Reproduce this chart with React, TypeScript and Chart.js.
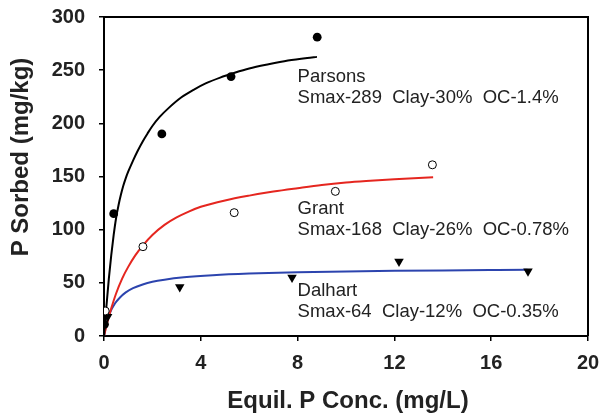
import React, { useEffect, useRef } from "react";
import { Chart, registerables } from "chart.js";

Chart.register(...registerables);

// ---- Data ----
const xTicks = [0, 4, 8, 12, 16, 20];
const yTicks = [0, 50, 100, 150, 200, 250, 300];

const parsonsX = [0.02, 0.4, 2.39, 5.25, 8.81];
const parsonsY = [11, 115, 190, 244, 281];
const grantX = [0.05, 1.61, 5.38, 9.56, 13.57];
const grantY = [23.5, 84, 116, 136, 161];
const dalhartX = [0.15, 3.13, 7.77, 12.19, 17.52];
const dalhartY = [18, 46, 55, 70, 61];

// fitted curves
const parsonsFitX = [0, 0.1, 0.2, 0.3, 0.4, 0.5, 0.6, 0.7, 0.8, 0.9, 1.0, 1.2, 1.4, 1.6, 1.8, 2.0, 2.3, 2.7, 3.2, 3.7, 4.2, 4.8, 5.4, 6.0, 6.8, 7.6, 8.4, 8.8];
const parsonsFitY = [0, 28, 54, 76, 95, 111, 123, 133, 141.5, 148.5, 154.5, 165, 174.5, 183, 190.5, 197.5, 206, 215, 224.5, 231.5, 237.5, 243, 247.5, 251.5, 255.5, 259, 261.5, 262.5];
const grantFitX = [0, 0.15, 0.3, 0.5, 0.75, 1.0, 1.3, 1.6, 2.0, 2.5, 3.0, 3.5, 4.0, 5.0, 6.0, 7.0, 8.0, 9.0, 10, 11, 12, 13, 13.6];
const grantFitY = [0, 14, 26, 40, 54, 65, 76, 85, 95, 104.5, 111.5, 117, 121.5, 127.5, 132, 135.8, 139, 142, 144.3, 146, 147.5, 148.7, 149.3];
const dalhartFitX = [0, 0.1, 0.25, 0.45, 0.65, 0.9, 1.2, 1.6, 2.0, 2.5, 3.3, 4.5, 6, 8, 10, 12, 14, 16, 17.5];
const dalhartFitY = [0, 11, 22, 30.5, 36, 41, 45, 48.5, 51, 53, 55.2, 57.2, 58.7, 59.9, 60.7, 61.3, 61.7, 62, 62.2];

const soilNames = ["Parsons", "Grant", "Dalhart"];
const soilDetails = [
  "Smax-289  Clay-30%  OC-1.4%",
  "Smax-168  Clay-26%  OC-0.78%",
  "Smax-64  Clay-12%  OC-0.35%",
];
const labelX = [8, 8, 8];
const labelY = [243.3, 119.6, 42.6];

const xTitle = "Equil. P Conc. (mg/L)";
const yTitle = "P Sorbed (mg/kg)";

const zip = (xs: number[], ys: number[]) => xs.map((x, i) => ({ x, y: ys[i] }));

const FONT = '"Liberation Sans", Arial, sans-serif';

export default function App() {
  const ref = useRef<HTMLCanvasElement | null>(null);

  useEffect(() => {
    if (!ref.current) return;

    const decor = {
      id: "decor",
      afterDraw(chart: any) {
        const { ctx, chartArea, scales } = chart;
        ctx.save();
        // frame top/right
        ctx.strokeStyle = "#000";
        ctx.lineWidth = 2;
        ctx.beginPath();
        ctx.moveTo(chartArea.left, chartArea.top);
        ctx.lineTo(chartArea.right, chartArea.top);
        ctx.lineTo(chartArea.right, chartArea.bottom);
        ctx.stroke();

        // annotations
        ctx.fillStyle = "#222";
        ctx.font = `18.5px ${FONT}`;
        ctx.textAlign = "left";
        ctx.textBaseline = "middle";
        soilNames.forEach((name, i) => {
          const px = scales.x.getPixelForValue(labelX[i]);
          const py = scales.y.getPixelForValue(labelY[i]);
          ctx.fillText(name, px, py);
          ctx.fillText(soilDetails[i], px, py + 21);
        });

        // axis titles
        ctx.fillStyle = "#222";
        ctx.font = `bold 24px ${FONT}`;
        ctx.textAlign = "center";
        ctx.textBaseline = "middle";
        ctx.fillText(xTitle, (chartArea.left + chartArea.right) / 2 + 2, 401);
        ctx.translate(21.5, 157);
        ctx.rotate(-Math.PI / 2);
        ctx.fillText(yTitle, 0, 0);
        ctx.restore();
      },
    };

    const chart = new Chart(ref.current, {
      type: "line",
      data: {
        datasets: [
          {
            label: "Parsons",
            data: zip(parsonsX, parsonsY),
            showLine: false,
            pointStyle: "circle",
            pointRadius: 4.4,
            backgroundColor: "#000",
            borderColor: "#000",
            borderWidth: 0,
            order: 0,
          },
          {
            label: "Grant",
            data: zip(grantX, grantY),
            showLine: false,
            pointStyle: "circle",
            pointRadius: 4,
            backgroundColor: "#fff",
            borderColor: "#000",
            pointBorderWidth: 1,
            order: 0,
          },
          {
            label: "Dalhart",
            data: zip(dalhartX, dalhartY),
            showLine: false,
            pointStyle: "triangle",
            pointRotation: 180,
            pointRadius: 5.5,
            backgroundColor: "#000",
            borderColor: "#000",
            pointBorderWidth: 0,
            order: 0,
          },
          {
            label: "Parsons fit",
            data: zip(parsonsFitX, parsonsFitY),
            borderColor: "#000",
            borderWidth: 2,
            pointRadius: 0,
            cubicInterpolationMode: "monotone",
            order: 1,
          },
          {
            label: "Grant fit",
            data: zip(grantFitX, grantFitY),
            borderColor: "#e5261f",
            borderWidth: 2,
            pointRadius: 0,
            cubicInterpolationMode: "monotone",
            order: 1,
          },
          {
            label: "Dalhart fit",
            data: zip(dalhartFitX, dalhartFitY),
            borderColor: "#2c44ae",
            borderWidth: 2,
            pointRadius: 0,
            cubicInterpolationMode: "monotone",
            order: 1,
          },
        ],
      },
      options: {
        responsive: false,
        animation: false,
        devicePixelRatio: 1,
        layout: { padding: { left: 0, right: 14, top: 17, bottom: 0 } },
        plugins: { legend: { display: false }, tooltip: { enabled: false } },
        scales: {
          x: {
            type: "linear",
            min: 0,
            max: 20,
            afterBuildTicks: (s: any) => {
              s.ticks = xTicks.map((v) => ({ value: v }));
            },
            afterFit: (s: any) => {
              s.height = 77;
              s.paddingLeft = 0;
              s.paddingRight = 0;
            },
            ticks: {
              color: "#222",
              font: { family: FONT, size: 20, weight: "bold" },
              padding: 10,
              maxRotation: 0,
            },
            grid: {
              display: true,
              drawOnChartArea: false,
              drawTicks: true,
              tickLength: 5,
              color: "#000",
              lineWidth: 1.5,
            },
            border: { display: true, color: "#000", width: 2 },
          },
          y: {
            type: "linear",
            min: 0,
            max: 300,
            afterBuildTicks: (s: any) => {
              s.ticks = yTicks.map((v) => ({ value: v }));
            },
            afterFit: (s: any) => {
              s.width = 104;
              s.paddingTop = 0;
              s.paddingBottom = 0;
            },
            ticks: {
              color: "#222",
              font: { family: FONT, size: 20, weight: "bold" },
              padding: 14,
            },
            grid: {
              display: true,
              drawOnChartArea: false,
              drawTicks: true,
              tickLength: 5,
              color: "#000",
              lineWidth: 1.5,
            },
            border: { display: true, color: "#000", width: 2 },
          },
        },
      },
      plugins: [decor],
    } as any);

    return () => chart.destroy();
  }, []);

  return (
    <div style={{ position: "absolute", left: 0, top: 0, width: 602, height: 413, background: "#fff" }}>
      <canvas ref={ref} width={602} height={413} style={{ display: "block" }} />
    </div>
  );
}
